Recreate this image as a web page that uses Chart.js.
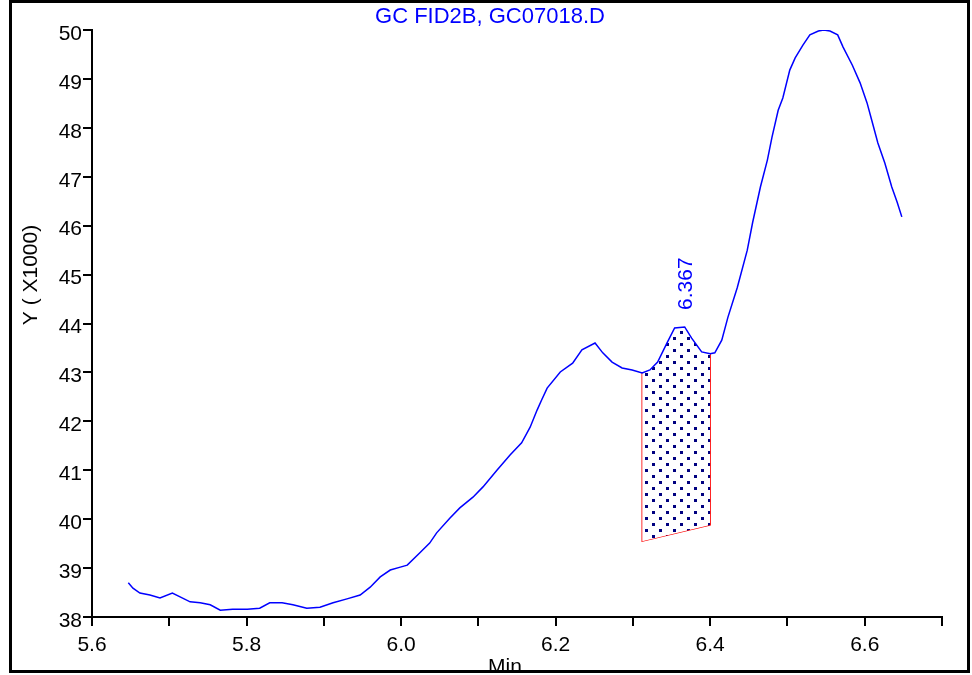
<!DOCTYPE html>
<html>
<head>
<meta charset="utf-8">
<title>GC FID2B, GC07018.D</title>
<script src="https://cdn.jsdelivr.net/npm/chart.js@4.4.1/dist/chart.umd.min.js"></script>
<style>
  html, body { margin: 0; padding: 0; background: #fff; }
  canvas { display: block; }
</style>
</head>
<body>
<canvas id="myChart" width="972" height="675"></canvas>
<script>
// retention time (min) and signal (Y x1000)
const timeMin = [
  5.647, 5.653, 5.662, 5.675, 5.688, 5.704, 5.714, 5.727, 5.740, 5.753,
  5.766, 5.782, 5.801, 5.817, 5.830, 5.846, 5.860, 5.878, 5.895, 5.912,
  5.930, 5.947, 5.960, 5.973, 5.986, 5.999, 6.008, 6.024, 6.037, 6.046,
  6.063, 6.076, 6.093, 6.106, 6.124, 6.141, 6.156, 6.167, 6.176, 6.182,
  6.189, 6.206, 6.222, 6.234, 6.251, 6.261, 6.273, 6.286, 6.299, 6.312,
  6.322, 6.332, 6.344, 6.354, 6.367, 6.376, 6.389, 6.400, 6.406, 6.415,
  6.423, 6.435, 6.448, 6.455, 6.465, 6.474, 6.480, 6.488, 6.494, 6.503,
  6.510, 6.520, 6.529, 6.540, 6.547, 6.555, 6.565, 6.572, 6.584, 6.594,
  6.603, 6.609, 6.617, 6.626, 6.635, 6.642, 6.648
];
const signal = [
  38.70, 38.59, 38.49, 38.45, 38.39, 38.49, 38.41, 38.31, 38.29, 38.25,
  38.14, 38.16, 38.16, 38.18, 38.29, 38.29, 38.25, 38.18, 38.20, 38.29,
  38.37, 38.45, 38.61, 38.82, 38.96, 39.02, 39.06, 39.31, 39.51, 39.72,
  40.02, 40.23, 40.45, 40.66, 41.00, 41.31, 41.56, 41.88, 42.23, 42.44,
  42.68, 43.01, 43.19, 43.46, 43.60, 43.40, 43.21, 43.09, 43.05, 42.99,
  43.05, 43.21, 43.60, 43.91, 43.93, 43.70, 43.42, 43.38, 43.40, 43.66,
  44.13, 44.73, 45.50, 46.07, 46.79, 47.34, 47.81, 48.36, 48.61, 49.18,
  49.43, 49.69, 49.90, 49.98, 50.00, 49.98, 49.90, 49.65, 49.28, 48.92,
  48.51, 48.16, 47.69, 47.28, 46.79, 46.48, 46.18
];

// integrated peak: start/end time, baseline at each end, apex label
const peakTimes = [6.312, 6.400];
const peakBaseline = [39.55, 39.88];
const peakLabel = '6.367';
const peakApex = 6.367;

const xTickLabels = ['5.6', '5.8', '6.0', '6.2', '6.4', '6.6'];

const FONT = 'Liberation Sans';
const BLUE = '#0000ff';

function pts(xs, ys) {
  return xs.map((x, i) => ({ x: x, y: ys[i] }));
}

// curve part that sits on top of the shaded area
const peakCurve = pts(timeMin, signal).filter(p => p.x >= peakTimes[0] && p.x <= peakTimes[1]);
const peakTopL = peakCurve[0].y;
const peakTopR = peakCurve[peakCurve.length - 1].y;

// dotted fill
const pat = document.createElement('canvas');
pat.width = 14;
pat.height = 12;
const pctx = pat.getContext('2d');
pctx.fillStyle = '#fff';
pctx.fillRect(0, 0, 14, 12);
pctx.fillStyle = '#000080';
pctx.fillRect(1, 1, 3, 3);
pctx.fillRect(8, 7, 3, 3);

const ctx = document.getElementById('myChart').getContext('2d');
const dots = ctx.createPattern(pat, 'repeat');

const extras = {
  id: 'extras',
  afterDraw(chart) {
    const c = chart.ctx;
    const xs = chart.scales.x;
    const ys = chart.scales.y;

    // chart title
    c.save();
    c.fillStyle = BLUE;
    c.font = '22px "' + FONT + '"';
    c.textAlign = 'center';
    c.textBaseline = 'middle';
    c.fillText('GC FID2B, GC07018.D', 490, 17);
    c.restore();

    // axis titles
    c.save();
    c.fillStyle = '#000';
    c.font = '21px "' + FONT + '"';
    c.textAlign = 'center';
    c.textBaseline = 'middle';
    c.fillText('Min', 505, 667);
    c.translate(31, 275);
    c.rotate(-Math.PI / 2);
    c.fillText('Y ( X1000)', 0, 0);
    c.restore();

    // peak label
    const apexIdx = timeMin.indexOf(peakApex);
    c.save();
    c.fillStyle = BLUE;
    c.font = '21px "' + FONT + '"';
    c.textAlign = 'left';
    c.textBaseline = 'middle';
    c.translate(xs.getPixelForValue(peakApex) + 2, ys.getPixelForValue(signal[apexIdx]) - 17);
    c.rotate(-Math.PI / 2);
    c.fillText(peakLabel, 0, 0);
    c.restore();

    // frame
    c.save();
    c.strokeStyle = '#000';
    c.lineWidth = 3;
    c.strokeRect(10.5, 1.5, 958, 670);
    c.restore();
  }
};

const myChart = new Chart(ctx, {
  type: 'line',
  data: {
    datasets: [
      {
        label: 'signal',
        data: pts(timeMin, signal),
        borderColor: BLUE,
        borderWidth: 1.5,
        pointRadius: 0,
        tension: 0,
        fill: false
      },
      {
        label: 'peak',
        data: peakCurve,
        borderWidth: 0,
        borderColor: 'rgba(0,0,0,0)',
        backgroundColor: dots,
        pointRadius: 0,
        fill: '+1'
      },
      {
        label: 'baseline',
        data: pts(peakTimes, peakBaseline),
        borderWidth: 0,
        borderColor: 'rgba(0,0,0,0)',
        pointRadius: 0,
        fill: false
      },
      {
        label: 'outline',
        data: [
          { x: peakTimes[0], y: peakTopL },
          { x: peakTimes[0], y: peakBaseline[0] },
          { x: peakTimes[1], y: peakBaseline[1] },
          { x: peakTimes[1], y: peakTopR }
        ],
        borderColor: '#ff0000',
        borderWidth: 1.4,
        pointRadius: 0,
        fill: false
      }
    ]
  },
  options: {
    responsive: false,
    animation: false,
    devicePixelRatio: 1,
    layout: { padding: { left: 10, right: 30, top: 30, bottom: 0 } },
    plugins: {
      legend: { display: false },
      tooltip: { enabled: false },
      title: { display: false }
    },
    scales: {
      x: {
        type: 'linear',
        min: 5.6,
        max: 6.7,
        afterFit(scale) { scale.height = 58; },
        border: { display: true, color: '#000', width: 2 },
        grid: { drawOnChartArea: false, drawTicks: true, tickLength: 9, color: '#000', lineWidth: 2 },
        ticks: {
          stepSize: 0.1,
          autoSkip: false,
          maxRotation: 0,
          padding: 7,
          color: '#000',
          font: { family: FONT, size: 21 },
          callback(v) {
            const s = Number(v).toFixed(1);
            return xTickLabels.includes(s) ? s : '';
          }
        }
      },
      y: {
        type: 'linear',
        min: 38,
        max: 50,
        afterFit(scale) { scale.width = 82; },
        border: { display: true, color: '#000', width: 2 },
        grid: { drawOnChartArea: false, drawTicks: true, tickLength: 9, color: '#000', lineWidth: 2 },
        ticks: {
          stepSize: 1,
          padding: 1,
          labelOffset: 4,
          color: '#000',
          font: { family: FONT, size: 21 }
        }
      }
    }
  },
  plugins: [extras]
});
</script>
</body>
</html>
